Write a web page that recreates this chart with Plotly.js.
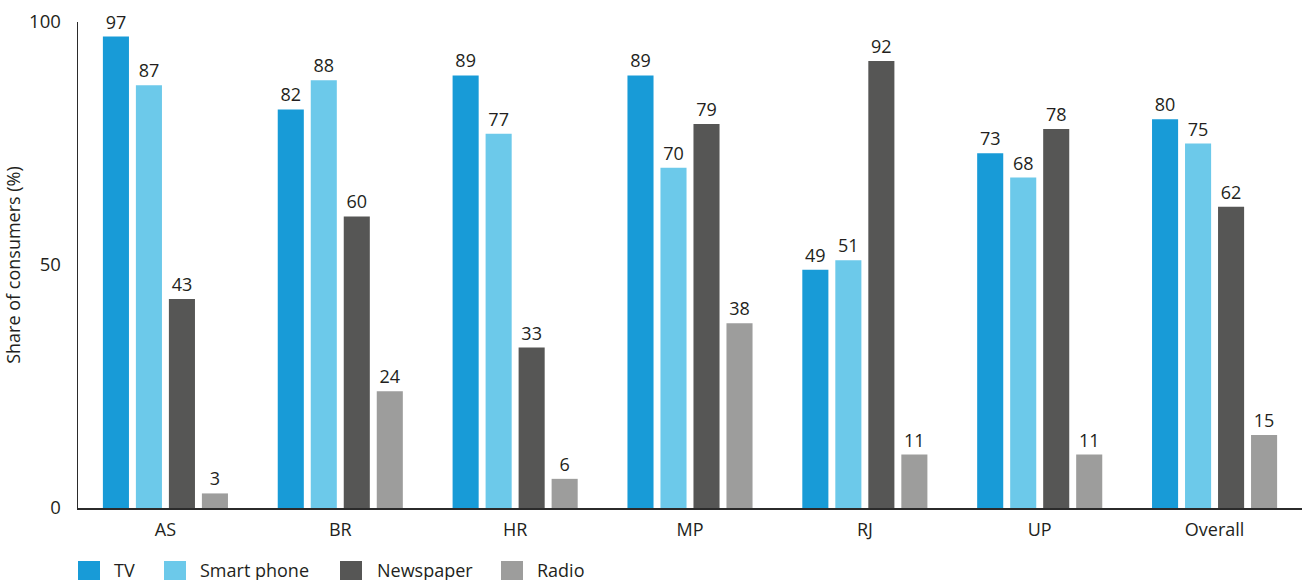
<!DOCTYPE html>
<html>
<head>
<meta charset="utf-8">
<script src="https://cdn.plot.ly/plotly-3.0.1.min.js"></script>
<style>
  html, body { margin: 0; padding: 0; background: #ffffff; }
  #chart { width: 1308px; height: 580px; }
</style>
</head>
<body>
<div id="chart"></div>
<script>
// Media access by state: share of consumers (%)
const states = ["AS", "BR", "HR", "MP", "RJ", "UP", "Overall"];
const tv         = [97, 82, 89, 89, 49, 73, 80];
const smartPhone = [87, 88, 77, 70, 51, 68, 75];
const newspaper  = [43, 60, 33, 79, 92, 78, 62];
const radio      = [3, 24, 6, 38, 11, 11, 15];

const seriesNames  = ["TV", "Smart phone", "Newspaper", "Radio"];
const seriesValues = [tv, smartPhone, newspaper, radio];
const seriesColors = ["#189bd7", "#6cc9ea", "#565655", "#9d9d9c"];

const yTicks = [0, 50, 100];

const FONT = "'Open Sans', 'DejaVu Sans', sans-serif";
const TEXT = "#231f20";

// plot area geometry (pixels)
const W = 1308, H = 580;
const M = { l: 78, r: 6, t: 22, b: 72 };
const plotW = W - M.l - M.r;
const plotH = H - M.t - M.b;
const px2x = px => (px - M.l) / plotW;
const px2y = py => (H - M.b - py) / plotH;

const traces = seriesNames.map((name, i) => ({
  type: "bar",
  name: name,
  x: states,
  y: seriesValues[i],
  marker: { color: seriesColors[i], line: { width: 0 } },
  text: seriesValues[i].map(String),
  textposition: "outside",
  textfont: { family: FONT, size: 18, color: TEXT },
  constraintext: "none",
  cliponaxis: false,
  hoverinfo: "x+y+name"
}));

// custom legend row under the axis
const legendSwatchX = [78, 164, 340, 501];
const legendTextX   = [113, 199, 376, 536];
const shapes = seriesNames.map((n, i) => ({
  type: "rect", xref: "paper", yref: "paper",
  x0: px2x(legendSwatchX[i]), x1: px2x(legendSwatchX[i] + 22),
  y0: px2y(561), y1: px2y(583),
  fillcolor: seriesColors[i], line: { width: 0 }
}));
const annotations = seriesNames.map((n, i) => ({
  xref: "paper", yref: "paper",
  x: px2x(legendTextX[i]), y: px2y(569.5),
  xanchor: "left", yanchor: "middle",
  text: n, showarrow: false, borderpad: 0,
  font: { family: FONT, size: 18, color: TEXT }
}));

const layout = {
  width: W, height: H,
  margin: M,
  paper_bgcolor: "#ffffff",
  plot_bgcolor: "#ffffff",
  barmode: "group",
  bargap: 0.245,
  bargroupgap: 0.21,
  showlegend: false,
  font: { family: FONT, color: TEXT },
  xaxis: {
    type: "category",
    range: [-0.5, 6.5],
    showline: true, linecolor: "#2b2b2b", linewidth: 2,
    showgrid: false, zeroline: false, ticks: "",
    tickfont: { family: FONT, size: 18, color: TEXT },
    ticklabelstandoff: 4
  },
  yaxis: {
    range: [0, 100],
    tickvals: yTicks,
    ticktext: yTicks.map(String),
    showline: true, linecolor: "#2b2b2b", linewidth: 1.5,
    showgrid: false, zeroline: false, ticks: "",
    tickfont: { family: FONT, size: 18.5, color: TEXT },
    ticklabelstandoff: 12,
    title: {
      text: "Share of consumers (%)",
      font: { family: FONT, size: 18, color: TEXT },
      standoff: 4
    }
  },
  shapes: shapes,
  annotations: annotations
};

Plotly.newPlot("chart", traces, layout, { displayModeBar: false, staticPlot: true });
</script>
</body>
</html>
